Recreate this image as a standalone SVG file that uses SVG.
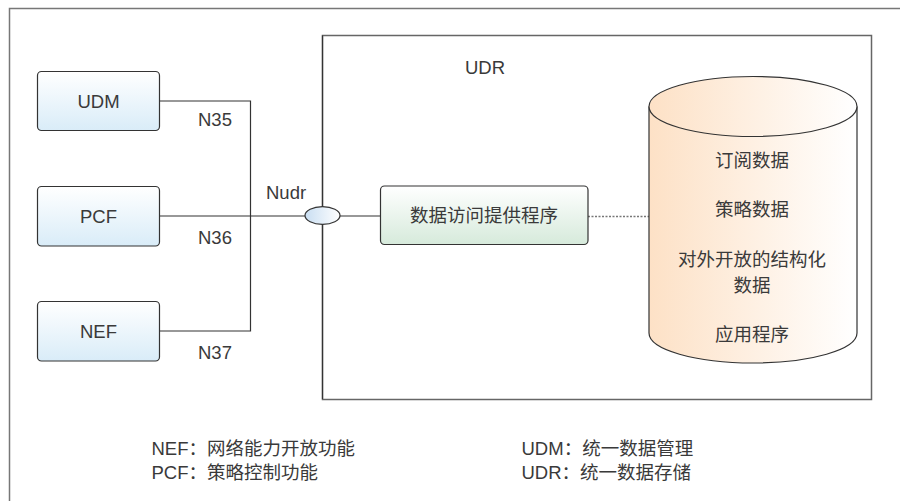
<svg xmlns="http://www.w3.org/2000/svg" width="900" height="501" viewBox="0 0 900 501">
<defs>
<linearGradient id="gBlue" x1="0" y1="0" x2="0" y2="1"><stop offset="0" stop-color="#ffffff"/><stop offset="1" stop-color="#d9ecf8"/></linearGradient>
<linearGradient id="gGreen" x1="0" y1="0" x2="0" y2="1"><stop offset="0" stop-color="#ffffff"/><stop offset="1" stop-color="#d6eadb"/></linearGradient>
<linearGradient id="gEll" x1="0" y1="0" x2="1" y2="0"><stop offset="0" stop-color="#c9def2"/><stop offset="1" stop-color="#ffffff"/></linearGradient>
<linearGradient id="gCyl" x1="0" y1="0" x2="1" y2="0"><stop offset="0" stop-color="#fde1c6"/><stop offset="1" stop-color="#ffffff"/></linearGradient>
<style>
text{font-family:"Liberation Sans","Noto Sans CJK SC",sans-serif;font-size:18.5px;fill:#3a3a3a;dominant-baseline:central}
.c{text-anchor:middle}
.box{stroke:#333;stroke-width:1.2}
.ln{fill:none;stroke:#333;stroke-width:1.2}
</style>
</defs>
<path d="M9.5,501 V8.5 H900" fill="none" stroke="#777" stroke-width="1.5"/>
<g id="udr"><rect x="322.5" y="35.5" width="549" height="364" fill="none" stroke="#666" stroke-width="1.5"/><text x="465" y="67.5">UDR</text></g>
<g id="connectors">
<path class="ln" d="M159.5,101 H250.5 V331 H159.5"/>
<path class="ln" d="M159.5,216 H381"/>
<path class="ln" d="M322.5,35.5 V399"/>
<path d="M588,216.5 H649" fill="none" stroke="#777" stroke-width="1.5" stroke-dasharray="2,1.5"/>
</g>
<g id="udm"><rect class="box" x="37.5" y="71.5" width="122" height="59" rx="4" fill="url(#gBlue)"/><text class="c" x="98.5" y="101">UDM</text></g>
<g id="pcf"><rect class="box" x="37.5" y="186.5" width="122" height="59.5" rx="4" fill="url(#gBlue)"/><text class="c" x="98.5" y="216">PCF</text></g>
<g id="nef"><rect class="box" x="37.5" y="301.5" width="122" height="59.5" rx="4" fill="url(#gBlue)"/><text class="c" x="98.5" y="331">NEF</text></g>
<g id="labels">
<text x="198" y="119.5">N35</text>
<text x="198" y="237.5">N36</text>
<text x="198" y="352.5">N37</text>
<text x="266" y="192.5">Nudr</text>
</g>
<g id="nudr"><ellipse cx="322.5" cy="215.5" rx="17.5" ry="8.8" fill="url(#gEll)" stroke="#333" stroke-width="1.2"/></g>
<g id="provider"><rect class="box" x="380.5" y="186" width="207.5" height="58.5" rx="4" fill="url(#gGreen)"/><text class="c" x="484" y="215.5">数据访问提供程序</text></g>
<g id="db">
<path d="M649,106.5 V333 A104,30 0 0 0 857,333 V106.5" fill="url(#gCyl)" stroke="#333" stroke-width="1.2"/>
<ellipse cx="753" cy="106.5" rx="104" ry="30" fill="url(#gCyl)" stroke="#333" stroke-width="1.2"/>
<text class="c" x="752" y="160">订阅数据</text>
<text class="c" x="752" y="209">策略数据</text>
<text class="c" x="752" y="259">对外开放的结构化</text>
<text class="c" x="752" y="285">数据</text>
<text class="c" x="752" y="334">应用程序</text>
</g>
<g id="legend">
<text x="151.5" y="448">NEF：网络能力开放功能</text>
<text x="151.5" y="472">PCF：策略控制功能</text>
<text x="521.5" y="448">UDM：统一数据管理</text>
<text x="521.5" y="472">UDR：统一数据存储</text>
</g>
</svg>
